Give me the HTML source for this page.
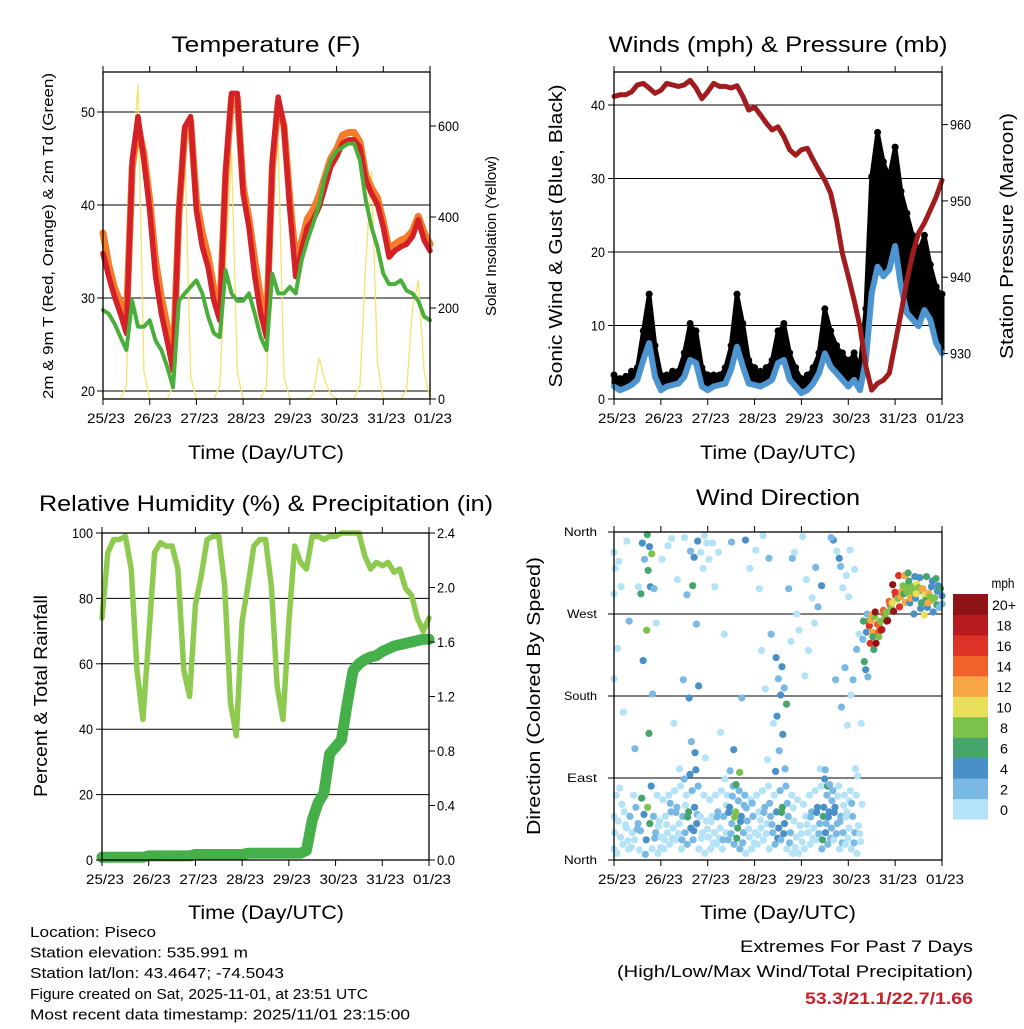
<!DOCTYPE html>
<html><head><meta charset="utf-8"><style>
html,body{margin:0;padding:0;background:#fff;}
svg text{font-family:"Liberation Sans Narrow","Liberation Sans",sans-serif;fill:#000;}
</style></head><body>
<svg id="s" width="1024" height="1024" viewBox="0 0 1024 1024" xmlns="http://www.w3.org/2000/svg"></svg>
<script>
// ---------- data (3-hourly samples starting 25/23 UTC) ----------
const dayLabels=["25/23","26/23","27/23","28/23","29/23","30/23","31/23","01/23"];
const temp2m=[34.8,32.3,30.1,28.3,26.2,44.8,49.5,44.8,39.4,32.3,28.3,25.4,22.2,39.4,48.4,49.5,39.4,35.5,33.3,29.7,27.6,43.7,52,52,41.2,37.6,32.3,28.3,25.8,44.8,51.6,48.4,39.4,32.3,35.1,37.6,38.4,39.8,41.9,44.1,45.2,46.6,47,47,46.2,42.7,41.2,40.1,37.6,34.4,35.1,35.5,35.8,36.6,38.4,36.2,35.1];
const temp9m=[37,33.5,31,29.5,27.5,44,48.5,45.5,40.5,34,30,27,23,39,48,49,40.5,37,34.5,31,28.5,43,51.5,51.5,42,38.5,34,30,27,44,51,48.5,40.5,34,36,38.5,39.5,41,43,45,46,47.5,47.8,47.8,46.8,43.2,41.8,40.8,38.2,35.2,35.8,36.2,36.5,37.2,38.8,37,35.8];
const dewpt=[28.7,28.3,27.2,25.8,24.4,29.7,26.9,26.9,27.6,25.4,24.4,22.6,20.4,29.7,30.5,31.2,31.9,30.5,28,26.2,25.8,33,30.5,29.7,29.7,30.5,28.3,25.8,24.4,32.6,30.5,30.5,31.2,30.5,34,36.2,38,40.1,43,44.8,45.8,46.2,46.6,46.6,44.8,40.5,37.6,35.5,32.6,31.5,31.5,31.9,30.8,30.5,29.7,28,27.6];
const solar=[0,0,0,0,30,520,690,60,0,0,0,0,30,380,560,50,0,0,0,0,30,300,540,60,0,0,0,0,30,450,560,50,0,0,0,0,10,90,40,10,0,0,0,0,30,300,500,80,0,0,0,0,20,200,260,60,0];
const sonic=[1.7,1.2,1.5,1.9,2.6,5.3,7.6,3,1.2,1.7,1.9,2.1,3,5.3,4.9,1.7,1.2,1.7,1.9,2.1,4,7.1,4.4,2.1,1.9,1.7,2.1,2.6,4.9,5.3,2.6,1.7,0.8,1.2,2.1,3.5,6.2,4.4,3.5,2.6,1.7,2.6,1.2,5.3,14.4,18,16.7,17.6,20.8,15.3,11.7,10.8,9.9,12.1,10.8,7.6,6.2];
const gust=[3,2.5,2.8,3.5,4,9,14,7,3,3,3.5,3.5,6,10,9,4,3,3,3,4,7,14,10,5,4,3.5,4,5,9,10,6,4,2.5,3,4,6,12,9,7,6,5,6,4,12,30,36,32,30,34,28,25,22,20,22,18,15,14];
const pressure=[963.7,963.9,963.9,964.3,965.2,965.4,964.8,964.1,964.5,965.4,965.2,965.0,965.2,965.8,964.8,963.4,964.3,965.4,965.0,965.0,964.8,965.1,963.7,961.9,962.3,961.3,960.2,959.3,959.7,958.4,956.7,956.0,956.7,956.9,955.4,954.0,952.7,951.0,947.5,943.1,940.1,937.0,933.5,928.3,925.2,926.1,926.5,927.4,931.3,935.3,939.6,943.1,945.8,947.1,948.8,950.5,952.7];
const rh=[74,94,98,98,99,89,58,43,68,94,97,96,96,89,58,50,78,87,98,99,99,84,48,38,73,84,96,98,98,84,53,43,73,96,91,89,99,99,98,99,99,100,100,100,100,93,89,91,90,91,88,89,83,81,74,70,74];
const precip=[0.02,0.02,0.02,0.02,0.02,0.02,0.02,0.02,0.03,0.03,0.03,0.03,0.03,0.03,0.03,0.03,0.04,0.04,0.04,0.04,0.04,0.04,0.04,0.04,0.04,0.05,0.05,0.05,0.05,0.05,0.05,0.05,0.05,0.05,0.05,0.07,0.29,0.42,0.49,0.78,0.83,0.88,1.15,1.39,1.44,1.47,1.49,1.5,1.53,1.55,1.57,1.58,1.59,1.6,1.61,1.62,1.62];
const windDir=[[10,30,50,70,200,290,320,340],[5,25,45,60,80,230,300,330],[15,35,55,20,40,160,350],[10,30,50,70,15,260],[20,40,60,10,35,120,300],[30,50,70,5,220,290,330,350],[20,40,60,80,140,250,300,320,335,345,355],[10,30,50,70,25,180,260,300],[5,25,45,65,15,35,330],[10,30,50,70,40,20,345],[15,35,55,75,25,60,150,355],[20,40,60,80,30,50,100,310],[10,30,50,70,90,20,60,200,290,355],[15,35,55,75,95,45,130,180,300,340],[20,40,60,80,100,30,50,120,190,260,330,350],[10,30,50,70,25,45,320,340,355],[5,25,45,65,35,110,330,350],[10,30,50,70,20,40,300,350],[15,35,55,75,25,45,140,340],[10,30,50,70,90,20,60,250],[20,40,60,80,30,50,70,100,120,350],[15,35,55,75,25,45,65,85,95],[10,30,50,70,20,40,60,180,350],[5,25,45,65,35,55,320],[10,30,50,70,20,60,340],[15,35,55,75,45,25,230,300,355],[20,40,60,80,30,50,110,190,330],[10,30,50,70,40,60,150,250],[15,35,55,75,25,95,120,160,180,200,220],[20,40,60,80,30,50,100,140,170,190,210],[10,30,50,70,20,60,240,300,330],[5,25,45,65,15,55,270,340],[5,20,40,60,30,250,355],[10,30,50,70,40,200,230,310],[15,35,55,75,25,45,260,290,320],[20,40,60,80,30,50,100,280,300],[10,30,50,70,90,20,40,60,80,100],[15,35,55,75,25,45,65,85,350,355],[20,40,60,80,30,50,70,200,330,340],[10,30,50,70,20,40,60,170,210,300,320],[15,35,55,75,25,45,65,150,180,290,310,340],[10,30,50,70,20,60,100,200,230,320],[5,20,40,60,30,90,150,250],[240,250,220,200,210,260,270],[260,250,240,230,270,255,245,265],[265,250,240,255,260,270,245],[260,270,255,265,275,250],[270,280,265,275,285,260],[280,290,275,285,295,300],[285,295,280,300,290,310],[290,300,285,305,295,310,315],[280,300,290,310,295,285,270],[285,295,305,275,300,290,310],[280,290,300,310,270,295,285],[275,285,295,305,290,280,300],[270,280,290,300,310,285,295],[275,290,300,280]];
const speedTicks=["0","2","4","6","8","10","12","14","16","18","20+"];
const speedColors=["#b4e2f7","#7ab9e4","#4a90c8","#45a56c","#7cc24a","#e8e05a","#f7a545","#f0622a","#dc3228","#b81a1f","#8e1418"];

// ---------- helpers ----------
const NS="http://www.w3.org/2000/svg";
const svg=document.getElementById('s');
function el(tag,attrs,parent){const e=document.createElementNS(NS,tag);for(const k in attrs)e.setAttribute(k,attrs[k]);(parent||svg).appendChild(e);return e;}
function txt(str,x,y,size,anchor,len,parent,extra){const t=el('text',Object.assign({x:x,y:y,'font-size':size,'text-anchor':anchor||'middle'},extra||{}),parent);if(len){t.setAttribute('textLength',len);t.setAttribute('lengthAdjust','spacingAndGlyphs');}t.textContent=str;return t;}
function panel(x0,x1,y0,y1){return {x0,x1,y0,y1,sx:t=>x0+(t/56)*(x1-x0)};}
function lin(d0,d1,p0,p1){return v=>p0+(v-d0)/(d1-d0)*(p1-p0);}
function poly(arr,sx,sy,stroke,w,name,parent,extra){const pts=arr.map((v,i)=>sx(i).toFixed(1)+','+sy(v).toFixed(1)).join(' ');const p=el('polyline',Object.assign({points:pts,fill:'none',stroke:stroke,'stroke-width':w,'stroke-linejoin':'round','stroke-linecap':'round'},extra||{}),parent);return p;}
function frame(P,g){el('rect',{x:P.x0,y:P.y0,width:P.x1-P.x0,height:P.y1-P.y0,fill:'none',stroke:'#000','stroke-width':1.3},g);}
function xAxis(P,g){for(let d=0;d<8;d++){const x=P.x0+d/7*(P.x1-P.x0);el('line',{x1:x,y1:P.y1,x2:x,y2:P.y1+6,stroke:'#000'},g);el('line',{x1:x,y1:P.y0,x2:x,y2:P.y0-6,stroke:'#000'},g);const t=txt(dayLabels[d],x+3,P.y1+24,13.5,'middle',38,g);}}
function hgrid(P,vals,sy,g){vals.forEach(v=>{const y=sy(v);el('line',{x1:P.x0,y1:y,x2:P.x1,y2:y,stroke:'#000','stroke-width':1},g);});}
function group(name){const g=el('g',{});return g;}

// ---------- Panel 1: Temperature ----------
(function(){
const g=group('temperature-panel');
const P=panel(103,430,72,399);
const sy=lin(20,50,391,112);
const ss=lin(0,600,399,126);
const sx=P.sx;
hgrid(P,[20,30,40,50],sy,g);
poly(solar,sx,ss,'#f7e26b',1.3,'solar-insolation-line',g);
poly(temp9m,sx,sy,'#f47c2a',7,'temp-9m-line',g);
poly(temp2m,sx,sy,'#d42027',5.5,'temp-2m-line',g);
poly(dewpt,sx,sy,'#4aae3a',4,'dewpoint-line',g,{'stroke-dasharray':'3 1'});
frame(P,g);xAxis(P,g);
[20,30,40,50].forEach(v=>{el('line',{x1:P.x0-6,y1:sy(v),x2:P.x0,y2:sy(v),stroke:'#000'},g);txt(String(v),P.x0-8,sy(v)+5,13.5,'end',14,g);});
[0,200,400,600].forEach(v=>{el('line',{x1:P.x1,y1:ss(v),x2:P.x1+6,y2:ss(v),stroke:'#000'},g);txt(String(v),P.x1+8,ss(v)+5,13.5,'start',v?21:7,g);});
const t=txt('Temperature (F)',266,52,22,'middle',189,g);
txt('Time (Day/UTC)',266,459,19,'middle',156,g);
txt('2m & 9m T (Red, Orange) & 2m Td (Green)',0,0,14.5,'middle',326,g,{transform:'translate(53,236) rotate(-90)'});
txt('Solar Insolation (Yellow)',0,0,14.5,'middle',160,g,{transform:'translate(496,236) rotate(-90)'});
})();

// ---------- Panel 2: Winds & Pressure ----------
(function(){
const g=group('winds-pressure-panel');
const P=panel(614,942,72,399);
const sy=lin(0,40,399,105);
const sp=lin(930,960,353.5,124.6);
const sx=P.sx;
hgrid(P,[10,20,30,40],sy,g);
// gust cloud: band between sonic and gust values
const top=gust.map((v,i)=>sx(i).toFixed(1)+','+sy(v).toFixed(1));
const bot=sonic.map((v,i)=>sx(i).toFixed(1)+','+sy(v).toFixed(1)).reverse();
const band=el('polygon',{points:top.concat(bot).join(' '),fill:'#000',stroke:'#000','stroke-width':5,'stroke-linejoin':'round'},g);


gust.forEach((v,i)=>{const c=el('circle',{cx:sx(i),cy:sy(v)-2,r:3.5,fill:'#000'},g);});
poly(sonic,sx,sy,'#4d95d1',6,'sonic-wind-line',g);
poly(pressure,sx,sp,'#a01c1e',5,'pressure-line',g);
frame(P,g);xAxis(P,g);
[0,10,20,30,40].forEach(v=>{el('line',{x1:P.x0-6,y1:sy(v),x2:P.x0,y2:sy(v),stroke:'#000'},g);txt(String(v),P.x0-9,sy(v)+5,13.5,'end',v?14:7,g);});
[930,940,950,960].forEach(v=>{el('line',{x1:P.x1,y1:sp(v),x2:P.x1+6,y2:sp(v),stroke:'#000'},g);txt(String(v),P.x1+8,sp(v)+5,13.5,'start',21,g);});
txt('Winds (mph) & Pressure (mb)',778,52,22,'middle',339,g);
txt('Time (Day/UTC)',778,459,19,'middle',156,g);
txt('Sonic Wind & Gust (Blue, Black)',0,0,18,'middle',303,g,{transform:'translate(562,236) rotate(-90)'});
txt('Station Pressure (Maroon)',0,0,18,'middle',246,g,{transform:'translate(1013,236) rotate(-90)'});
})();

// ---------- Panel 3: RH & Precip ----------
(function(){
const g=group('humidity-precip-panel');
const P=panel(102,429,533,860);
const sy=lin(0,100,860,533);
const sr=lin(0,2.4,860,533);
const sx=P.sx;
hgrid(P,[20,40,60,80],sy,g);
poly(rh,sx,sy,'#8fca50',5.5,'humidity-line',g);
poly(precip,sx,sr,'#45b04a',11,'precip-line',g);
frame(P,g);xAxis(P,g);
[0,20,40,60,80,100].forEach(v=>{el('line',{x1:P.x0-6,y1:sy(v),x2:P.x0,y2:sy(v),stroke:'#000'},g);txt(String(v),P.x0-9,sy(v)+5,13.5,'end',v==100?21:(v?14:7),g);});
[0,0.4,0.8,1.2,1.6,2.0,2.4].forEach(v=>{el('line',{x1:P.x1,y1:sr(v),x2:P.x1+6,y2:sr(v),stroke:'#000'},g);txt(v.toFixed(1),P.x1+8,sr(v)+5,13.5,'start',18,g);});
txt('Relative Humidity (%) & Precipitation (in)',266,511,22,'middle',454,g);
txt('Time (Day/UTC)',266,919,19,'middle',156,g);
txt('Percent & Total Rainfall',0,0,18,'middle',202,g,{transform:'translate(47,696) rotate(-90)'});
})();

// ---------- Panel 4: Wind direction ----------
(function(){
const g=group('wind-direction-panel');
const P=panel(614,942,532,860);
const sy=lin(0,360,860,532);
const tx=t=>P.x0+(t/56)*(P.x1-P.x0);
hgrid(P,[90,180,270],sy,g);
function col(s){let k=Math.floor(s/2);if(k>10)k=10;if(k<0)k=0;return speedColors[k];}
windDir.forEach((list,i)=>{
  list.forEach((d,k)=>{
    const frac=((k*0.618)%1)-0.5;
    const t=i+frac*1.0;
    const s=sonic[i]*(0.55+(k%3)*0.3);
    const c=el('circle',{cx:tx(Math.max(0,Math.min(56,t))).toFixed(1),cy:(sy(d)+((k*7)%5-2)).toFixed(1),r:3.6,fill:col(s)},g);
    
    
  });
});
frame(P,g);xAxis(P,g);
["North","East","South","West","North"].forEach((n,i)=>{const v=i*90;el('line',{x1:P.x0-6,y1:sy(v),x2:P.x0,y2:sy(v),stroke:'#000'},g);txt(n,P.x0-17,sy(v)+4,12,'end',n.length>4?33:30,g);});
txt('Wind Direction',778,505,22,'middle',164,g);
txt('Time (Day/UTC)',778,919,19,'middle',156,g);
txt('Direction (Colored By Speed)',0,0,18,'middle',278,g,{transform:'translate(540,696) rotate(-90)'});
// colorbar
const cb=group('speed-colorbar');
const cy0=594,cy1=819,h=(cy1-cy0)/11;
speedColors.forEach((c,k)=>{const r=el('rect',{x:953,y:cy1-(k+1)*h,width:35,height:h+0.5,fill:c},cb);});
speedTicks.forEach((s,k)=>{const y=cy1-(k+0.5)*h+1;txt(s,1004,y+5,14,'middle',s.length>2?24:(s.length>1?15:8),cb);});
txt('mph',1003,588,14,'middle',23,cb);
})();

// ---------- Footer ----------
(function(){
const g=group('station-info');
const lines=[["Location: Piseco",126],["Station elevation: 535.991 m",218],["Station lat/lon: 43.4647; -74.5043",254],["Figure created on Sat, 2025-11-01, at 23:51 UTC",338],["Most recent data timestamp: 2025/11/01 23:15:00",380]];
lines.forEach((l,i)=>txt(l[0],30,937+i*20.6,15,'start',l[1],g));
const e=group('extremes-summary');
txt('Extremes For Past 7 Days',973,952,16.5,'end',233,e);
txt('(High/Low/Max Wind/Total Precipitation)',973,977,16.5,'end',356,e);
txt('53.3/21.1/22.7/1.66',973,1004,16.5,'end',168,e,{'font-weight':'bold',fill:'#c8202a',style:'fill:#c8202a'});
})();
</script>
</body></html>
